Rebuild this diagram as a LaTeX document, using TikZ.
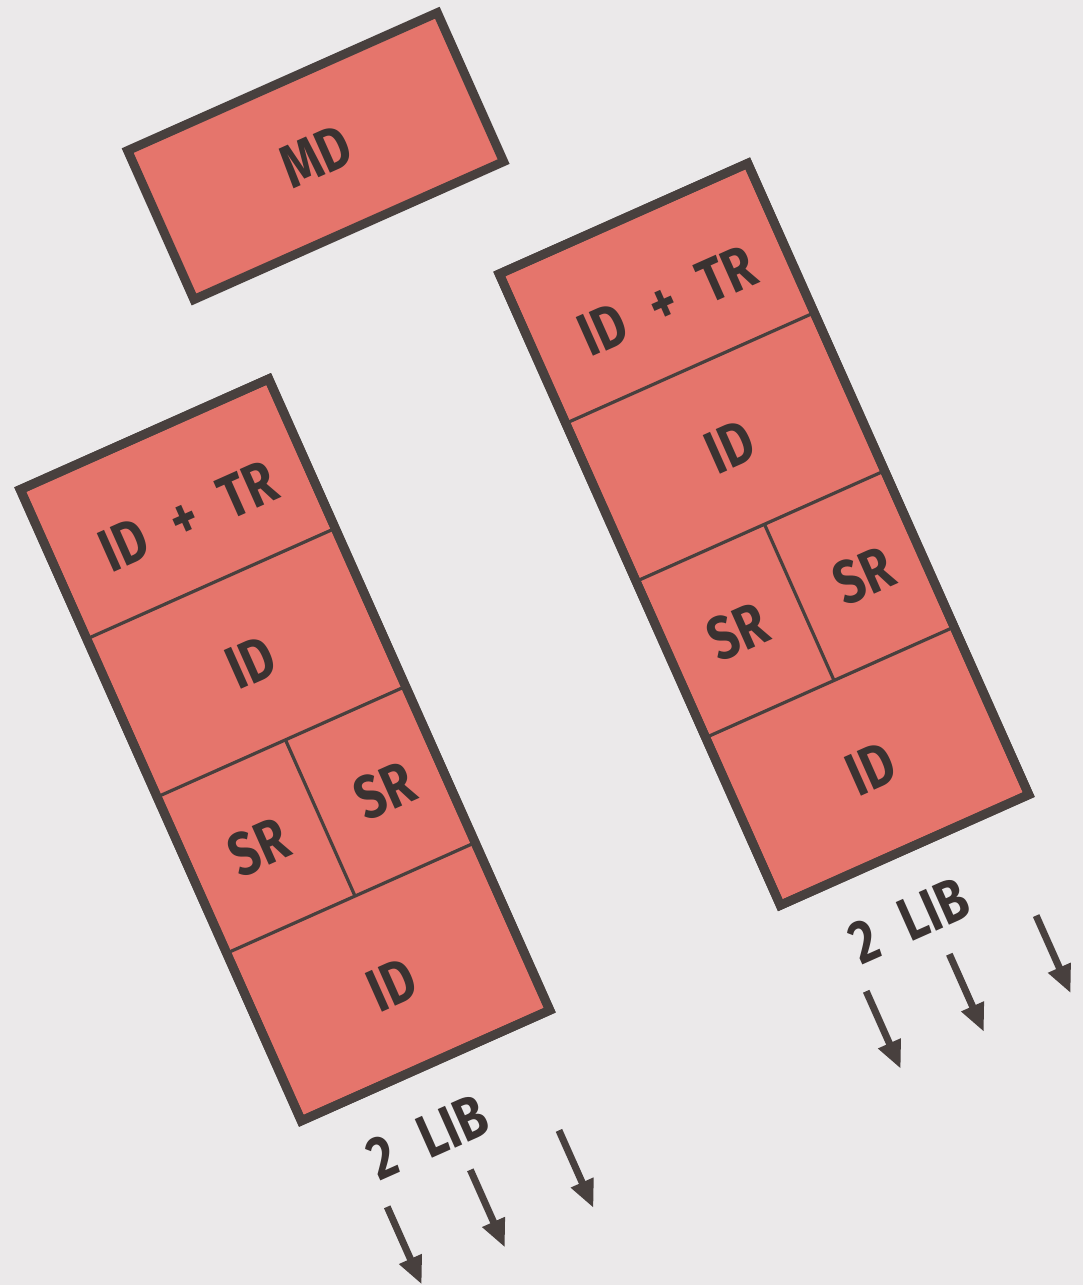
\documentclass[tikz,border=0pt]{standalone}
\usepackage{fontspec}
\setmainfont{Fira Sans}
\usetikzlibrary{arrows.meta}
\definecolor{bg}{RGB}{235,233,234}
\definecolor{salmon}{RGB}{229,117,108}
\definecolor{ink}{RGB}{72,64,62}
\definecolor{txt}{RGB}{58,50,49}
\newcommand{\lab}[1]{\scalebox{0.8}[1]{\bfseries #1}}
\tikzset{
  box/.style={draw=ink, fill=salmon, line width=9pt, line join=miter, inner sep=0pt, outer sep=0pt, anchor=north west},
  div/.style={draw=ink, line width=3.2pt},
  lbl/.style={inner sep=0pt, text=txt, font=\fontsize{61}{61}\selectfont},
  flow/.style={draw=ink, line width=7pt, -{Triangle[length=28pt,width=23pt]}},
}
\begin{document}
\begin{tikzpicture}[x=1pt,y=-1pt]
\fill[bg] (0,0) rectangle (1083,1285);
\useasboundingbox (0,0) rectangle (1083,1285);

% MD box
\begin{scope}[shift={(121.7,148.3)}, rotate=24, transform shape]
  \node[box, minimum width=339pt, minimum height=163pt] (md) at (4.5,4.5) {};
  \node[lbl] (mdt) at (md.center) {\lab{MD}};
\end{scope}

% left column
\begin{scope}[shift={(14.3,487.3)}, rotate=24, transform shape]
  \node[box, minimum width=272pt, minimum height=691pt] (L) at (4.5,4.5) {};
  \draw[div] (4.5,168) -- (276.5,168);
  \draw[div] (4.5,341) -- (276.5,341);
  \draw[div] (4.5,512) -- (276.5,512);
  \draw[div] (145,341) -- (145,512);
  \draw[ink, line width=9pt, line join=miter] (4.5,4.5) rectangle (276.5,695.5);
  \node[lbl] (L1) at (147,97) {\lab{ID\hspace{0.6em}+\hspace{0.6em}TR}};
  \node[lbl] (L2) at (145,256) {\lab{ID}};
  \node[lbl] (L3) at (77,428) {\lab{SR}};
  \node[lbl] (L4) at (215,428) {\lab{SR}};
  \node[lbl] (L5) at (143,608) {\lab{ID}};
  \node[lbl] (Llib) at (113,762) {\lab{2\hspace{0.6em}LIB}};
  \coordinate (La1) at (48,809);  \coordinate (Lb1) at (48,894);
  \coordinate (La2) at (139,809); \coordinate (Lb2) at (139,894);
  \coordinate (La3) at (236,809); \coordinate (Lb3) at (236,894);
  \draw[flow] (La1) -- (Lb1);
  \draw[flow] (La2) -- (Lb2);
  \draw[flow] (La3) -- (Lb3);
\end{scope}

% right column
\begin{scope}[shift={(493.3,271.7)}, rotate=24, transform shape]
  \node[box, minimum width=272pt, minimum height=691pt] (R) at (4.5,4.5) {};
  \draw[div] (4.5,168) -- (276.5,168);
  \draw[div] (4.5,341) -- (276.5,341);
  \draw[div] (4.5,512) -- (276.5,512);
  \draw[div] (145,341) -- (145,512);
  \draw[ink, line width=9pt, line join=miter] (4.5,4.5) rectangle (276.5,695.5);
  \node[lbl] (R1) at (147,97) {\lab{ID\hspace{0.6em}+\hspace{0.6em}TR}};
  \node[lbl] (R2) at (145,256) {\lab{ID}};
  \node[lbl] (R3) at (77,428) {\lab{SR}};
  \node[lbl] (R4) at (215,428) {\lab{SR}};
  \node[lbl] (R5) at (143,608) {\lab{ID}};
  \node[lbl] (Rlib) at (116,762) {\lab{2\hspace{0.6em}LIB}};
  \coordinate (Ra1) at (48,809);  \coordinate (Rb1) at (48,894);
  \coordinate (Ra2) at (139,809); \coordinate (Rb2) at (139,894);
  \coordinate (Ra3) at (234,809); \coordinate (Rb3) at (234,894);
  \draw[flow] (Ra1) -- (Rb1);
  \draw[flow] (Ra2) -- (Rb2);
  \draw[flow] (Ra3) -- (Rb3);
\end{scope}
\end{tikzpicture}
\end{document}
